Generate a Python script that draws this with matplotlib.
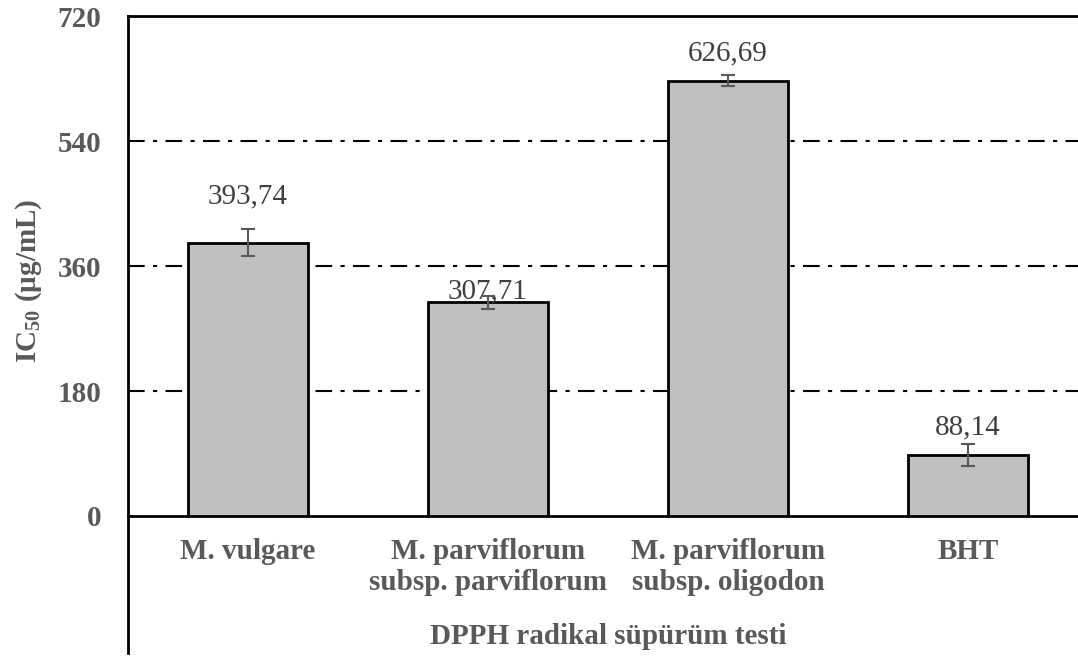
import matplotlib
matplotlib.use("Agg")
import matplotlib.pyplot as plt
import numpy as np

# IC50 values of the extracts and the BHT standard (DPPH assay)
categories = ["M. vulgare",
              "M. parviflorum\nsubsp. parviflorum",
              "M. parviflorum\nsubsp. oligodon",
              "BHT"]
ic50 = [393.74, 307.71, 626.69, 88.14]
ic50_err = [20, 9, 8, 16]
value_labels = ["393,74", "307,71", "626,69", "88,14"]
yticks = [0, 180, 360, 540, 720]

plt.rcParams['font.family'] = ['Liberation Serif', 'DejaVu Serif']
plt.rcParams['mathtext.fontset'] = 'custom'
plt.rcParams['mathtext.rm'] = 'Liberation Serif:bold'
plt.rcParams['mathtext.bf'] = 'Liberation Serif:bold'

grey_text = '#595959'

fig = plt.figure(figsize=(10.78, 6.59), dpi=100)
ax = fig.add_axes([0.1187, 0.217, 0.8905, 0.7587])

x = np.arange(len(categories))
ax.bar(x, ic50, width=0.5, color='#BFBFBF', edgecolor='black', linewidth=2, zorder=3)
ax.errorbar(x, ic50, yerr=ic50_err, fmt='none', ecolor='#595959',
            elinewidth=1.5, capsize=5, capthick=1.5, zorder=4)

# data labels sit a little above each bar (offsets in points, to text centre)
label_offsets = [33, 8, 19.5, 20]
for xi, v, txt, off in zip(x, ic50, value_labels, label_offsets):
    ax.annotate(txt, (xi, v), xytext=(0, off), textcoords='offset points',
                ha='center', va='center', fontsize=21, color='#404040')

ax.set_xlim(-0.5, 3.5)
ax.set_ylim(0, 720)
ax.set_yticks(yticks)
ax.set_yticklabels([str(t) for t in yticks], fontsize=21, fontweight='bold', color=grey_text)
ax.set_xticks(x)
ax.set_xticklabels(categories, fontsize=21, fontweight='bold', color=grey_text,
                   linespacing=1.2)
ax.tick_params(axis='y', length=0, pad=19)
ax.tick_params(axis='x', length=0, pad=16)

# dash-dot horizontal gridlines
for t in yticks[1:-1]:
    ax.axhline(t, color='black', linewidth=1.5, dashes=(8, 4, 2, 4), zorder=1)

ax.spines['right'].set_visible(False)
ax.spines['left'].set_visible(False)
ax.spines['top'].set_linewidth(2)
ax.spines['bottom'].set_linewidth(2)
# left axis line runs down past the category labels
ax.plot([0, 0], [-0.274, 1], transform=ax.transAxes, color='black',
        linewidth=2, clip_on=False, zorder=5)

ax.text(-0.103, 0.47, r'IC$_{\mathbf{50}}$ (µg/mL)', transform=ax.transAxes,
        rotation=90, ha='center', va='center', fontsize=21, fontweight='bold',
        color=grey_text)
ax.text(0.5, -0.242, 'DPPH radikal süpürüm testi', transform=ax.transAxes,
        ha='center', va='center', fontsize=21, fontweight='bold', color=grey_text)

fig.savefig('out.png', dpi=100)
